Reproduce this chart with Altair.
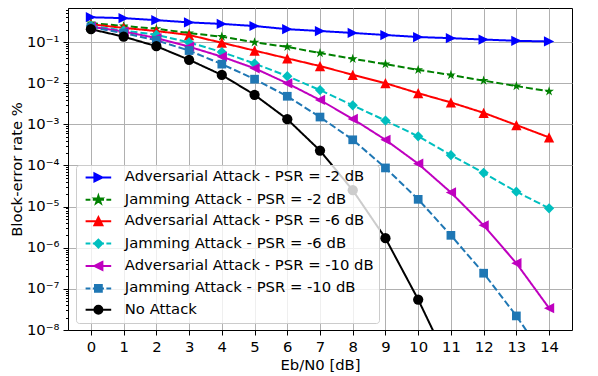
import altair as alt
import pandas as pd

# ---------------- data ----------------
ebn0 = list(range(15))
series_names = [
    "Adversarial Attack - PSR = -2 dB",
    "Jamming Attack - PSR = -2 dB",
    "Adversarial Attack - PSR = -6 dB",
    "Jamming Attack - PSR = -6 dB",
    "Adversarial Attack - PSR = -10 dB",
    "Jamming Attack - PSR = -10 dB",
    "No Attack",
]
adv_2 = [0.40, 0.38, 0.34, 0.30, 0.275, 0.245, 0.205, 0.185, 0.166, 0.148, 0.132, 0.124, 0.115, 0.107, 0.103]
jam_2 = [0.29, 0.245, 0.21, 0.165, 0.135, 0.098, 0.076, 0.054, 0.039, 0.029, 0.021, 0.0158, 0.0115, 0.0085, 0.0063]
adv_6 = [0.27, 0.22, 0.185, 0.148, 0.096, 0.062, 0.040, 0.026, 0.016, 0.0100, 0.0057, 0.0034, 0.0019, 0.00096, 0.00048]
jam_6 = [0.25, 0.19, 0.15, 0.098, 0.057, 0.030, 0.0148, 0.0068, 0.0029, 0.00123, 0.00051, 0.000178, 6.6e-5, 2.3e-5, 9.1e-6]
adv_10 = [0.235, 0.18, 0.125, 0.077, 0.044, 0.023, 0.0099, 0.0039, 0.00135, 0.00042, 0.00011, 2.2e-5, 3.5e-6, 4.2e-7, 3.4e-8]
jam_10 = [0.23, 0.165, 0.11, 0.062, 0.029, 0.0125, 0.0048, 0.0015, 0.00042, 8.7e-5, 1.5e-5, 2.0e-6, 2.4e-7, 2.2e-8, 1.5e-9]
no_attack = [0.205, 0.135, 0.079, 0.037, 0.0158, 0.0052, 0.00133, 0.00023, 2.5e-5, 1.7e-6, 5.5e-8, 1.2e-9]
all_values = [adv_2, jam_2, adv_6, jam_6, adv_10, jam_10, no_attack]

y_major = [1e-8, 1e-7, 1e-6, 1e-5, 1e-4, 1e-3, 1e-2, 1e-1]
y_minor = [k * m for m in [1e-8, 1e-7, 1e-6, 1e-5, 1e-4, 1e-3, 1e-2, 1e-1] for k in range(2, 10)]
y_minor = [v for v in y_minor if v < 0.67]

rows = []
for name, vals in zip(series_names, all_values):
    for xv, v in zip(ebn0, vals):
        rows.append({"series": name, "ebn0": xv, "bler": v})
df = pd.DataFrame(rows)

# ---------------- styles ----------------
colors = ["#0000ff", "#008000", "#ff0000", "#00bfbf", "#bf00bf", "#1f77b4", "#000000"]
dashes = [[1, 0], [7, 3], [1, 0], [7, 3], [1, 0], [7, 3], [1, 0]]

star = ("M0,-1L0.2245,-0.309L0.951,-0.309L0.3633,0.118L0.588,0.809L0,0.382"
        "L-0.588,0.809L-0.3633,0.118L-0.951,-0.309L-0.2245,-0.309Z")
tri_r = "M-1,-1L1,0L-1,1Z"
tri_u = "M0,-1L1,1L-1,1Z"
tri_l = "M1,-1L-1,0L1,1Z"
diam = "M0,-1L1,0L0,1L-1,0Z"
sq = "M-0.85,-0.85H0.85V0.85H-0.85Z"
circ = "M-1,0A1,1 0 1,0 1,0A1,1 0 1,0 -1,0Z"
marker_shapes = [tri_r, star, tri_u, diam, tri_l, sq, "circle"]

solid_seg = "M-3.2,0H3.2"
dash_seg = "M-3.2,0H-2.0M-1.4,0H-0.2M0.2,0H1.4M2.0,0H3.2"
legend_shapes = [
    solid_seg + tri_r,
    dash_seg + star,
    solid_seg + tri_u,
    dash_seg + diam,
    solid_seg + tri_l,
    dash_seg + sq,
    solid_seg + circ,
]

FONT = "DejaVu Sans"
FS = 14.8

x_enc = alt.X(
    "ebn0:Q",
    scale=alt.Scale(domain=[-0.7, 14.7], nice=False, zero=False),
    axis=alt.Axis(values=ebn0, title="Eb/N0 [dB]", format="d", titleBaseline="alphabetic",
                  titleY=39),
)
y_scale = alt.Scale(type="log", domain=[1e-8, 0.671], nice=False)

sup = "['⁰','¹','²','³','⁴','⁵','⁶','⁷','⁸','⁹']"
major_axis = alt.Axis(
    values=y_major,
    orient="left",
    title="Block-error rate %",
    labelExpr="'10⁻' + " + sup + "[round(-log(datum.value)/LN10)]",
    titleX=-47,
    titleBaseline="alphabetic",
    grid=True,
)
minor_axis = alt.Axis(
    values=y_minor,
    orient="left",
    labels=False,
    grid=False,
    domain=False,
    tickSize=2.5,
    title=None,
)

color_scale = alt.Scale(domain=series_names, range=colors)
dash_scale = alt.Scale(domain=series_names, range=dashes)
shape_scale = alt.Scale(domain=series_names, range=marker_shapes)
legend_shape_scale = alt.Scale(domain=series_names, range=legend_shapes)

base = alt.Chart(df)

lines = base.mark_line(clip=True, strokeWidth=2).encode(
    x=x_enc,
    y=alt.Y("bler:Q", scale=y_scale, axis=major_axis),
    color=alt.Color("series:N", scale=color_scale, legend=None),
    strokeDash=alt.StrokeDash("series:N", scale=dash_scale, legend=None),
    detail="series:N",
)

points = base.mark_point(clip=True, filled=True, size=105, opacity=1).encode(
    x=x_enc,
    y=alt.Y("bler:Q", scale=y_scale, axis=None),
    color=alt.Color("series:N", scale=color_scale, legend=None),
    shape=alt.Shape("series:N", scale=shape_scale, legend=None),
)

leg = alt.Legend(
    title=None,
    orient="none",
    legendX=8,
    legendY=157,
    direction="vertical",
    padding=5,
    fillColor="rgba(255,255,255,0.8)",
    strokeColor="#cccccc",
    cornerRadius=3,
    labelFont=FONT,
    labelFontSize=FS,
    labelColor="black",
    labelLimit=500,
    symbolSize=64,
    symbolStrokeWidth=2,
    symbolOpacity=1,
    symbolOffset=10,
    labelOffset=19,
    rowPadding=5.4,
)

legend_layer = base.mark_point(filled=True, opacity=0, size=64, strokeWidth=2).encode(
    x=x_enc,
    y=alt.Y("bler:Q", scale=y_scale, axis=minor_axis),
    fill=alt.Fill("series:N", scale=color_scale, legend=leg),
    stroke=alt.Stroke("series:N", scale=color_scale, legend=leg),
    shape=alt.Shape("series:N", scale=legend_shape_scale, legend=leg),
)

chart = (
    alt.layer(lines, points, legend_layer)
    .resolve_scale(shape="independent", fill="independent", stroke="independent")
    .resolve_axis(y="independent")
    .properties(
        width=504,
        height=322,
        autosize=alt.AutoSizeParams(type="none"),
        padding={"left": 60, "top": 0, "right": 10, "bottom": 48},
    )
    .configure_view(stroke="black", strokeWidth=1)
    .configure_axis(
        labelFont=FONT,
        titleFont=FONT,
        labelFontSize=FS,
        titleFontSize=FS,
        titleFontWeight="normal",
        labelColor="black",
        titleColor="black",
        domainColor="black",
        tickColor="black",
        tickSize=5,
        labelPadding=4,
        gridColor="#b0b0b0",
        gridWidth=1,
        gridOpacity=1,
    )
)

chart.save("out.html", embed_options={"renderer": "svg", "actions": False})
